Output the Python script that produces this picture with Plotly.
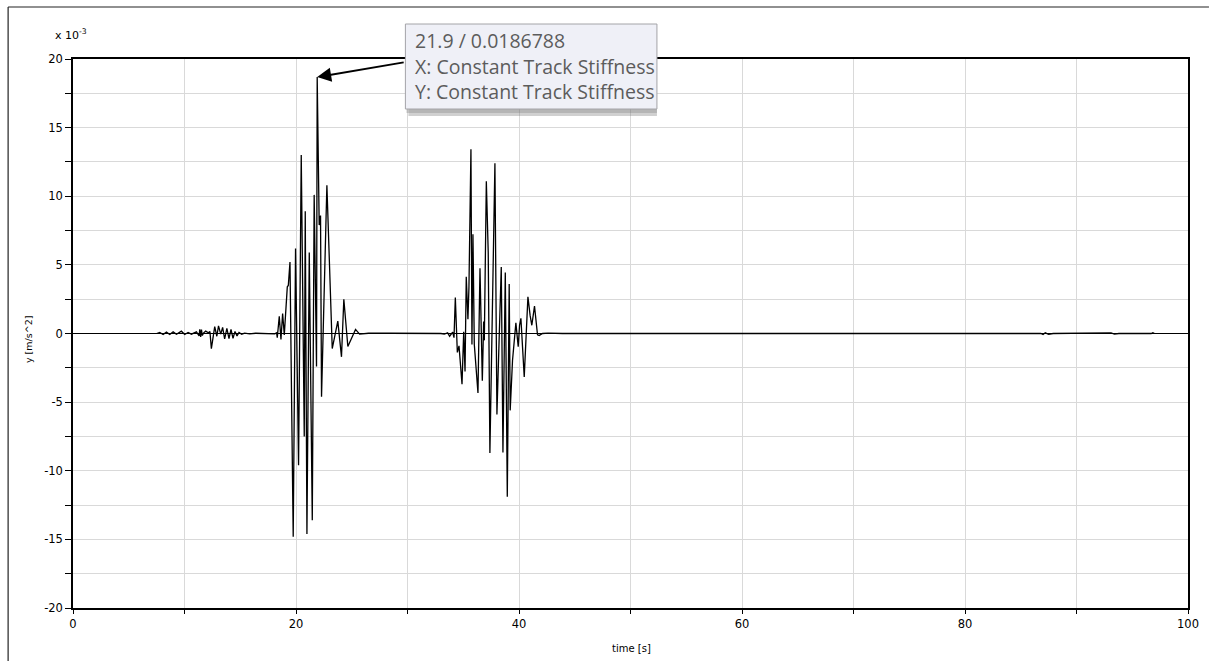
import plotly.graph_objects as go

# ---- data (time in s, acceleration in 1e-3 m/s^2) ----
time_s = [
    7.50, 7.78, 8.08, 8.38, 8.68, 8.98, 9.28, 9.72, 10.02, 10.32, 10.62, 11.07,
    11.31, 11.37, 11.45, 11.52, 11.60, 11.72, 11.90, 12.14, 12.28, 12.41, 12.71,
    12.90, 13.05, 13.25, 13.42, 13.60, 13.80, 13.99, 14.17, 14.35, 14.53, 14.71,
    14.89, 15.13, 15.39, 15.84, 16.38, 17.03, 17.93, 18.10,
    18.26, 18.32, 18.50, 18.65, 18.80, 18.95, 19.22, 19.31, 19.46, 19.75, 19.96,
    20.23, 20.47, 20.74, 20.83, 20.98, 21.19, 21.46, 21.63, 21.84, 21.90, 22.08,
    22.20, 22.29, 22.77, 23.25, 23.75, 24.08, 24.29, 24.65, 25.34, 25.70, 26.50,
    27.50, 28.50, 33.00, 33.30, 33.60, 33.78, 34.05, 34.17, 34.29, 34.47, 34.62,
    34.89, 35.04, 35.16, 35.27, 35.42, 35.51, 35.69, 35.78, 35.87, 35.99, 36.32,
    36.50, 36.71, 36.83, 36.89, 37.07, 37.24, 37.39, 37.69, 37.84, 38.02, 38.41,
    38.56, 38.77, 38.95, 39.12, 39.21, 39.42, 39.72, 39.93, 40.05, 40.17, 40.47,
    40.80, 41.00, 41.15, 41.39, 41.66, 41.81, 42.11, 42.60, 43.20, 43.90,
    86.80, 87.00, 87.20, 87.50, 87.90, 89.80, 90.00, 90.10, 91.00, 91.50, 91.60,
    92.80, 93.10, 93.40, 93.80, 96.70, 96.85, 97.00,
]
accel_milli = [
    0.00, 0.07, -0.07, 0.10, -0.07, 0.12, -0.05, 0.17, -0.07, 0.07, -0.05, 0.12,
    -0.17, 0.30, -0.25, 0.28, -0.15, 0.05, 0.17, 0.05, 0.15, -1.10, 0.50,
    -0.20, 0.55, -0.05, 0.45, -0.40, 0.38, -0.38, 0.30, -0.35, 0.15, -0.18,
    0.08, -0.05, 0.03, -0.03, 0.02, 0.00, 0.02, -0.03,
    0.05, -0.30, 1.26, -0.44, 1.46, -0.10, 3.40, 3.50, 5.20, -14.80, 6.20,
    -9.60, 13.00, -7.50, 8.90, -14.60, 5.90, -13.60, 10.10, -2.40, 18.68, 7.90,
    8.60, -4.60, 10.80, -1.10, 0.90, -1.70, 2.50, -0.95, 0.30, -0.05, 0.02,
    0.00, 0.02, 0.00, -0.04, 0.05, -0.20, 0.10, -0.30, 2.62, -1.38, -0.90,
    -3.69, 0.12, -2.77, 4.13, 1.04, 3.35, 13.42, -0.80, 7.23, -0.78, -4.34,
    4.76, -3.45, 0.87, -0.50, 11.10, 5.90, -8.70, 7.50, 12.40, -5.90, 4.85,
    -8.67, 4.44, -11.90, 3.60, -5.60, -1.95, 0.77, -0.97, 0.60, 1.10, -3.16,
    2.67, 1.30, 0.60, 2.00, -0.10, -0.15, 0.00, 0.03, 0.02, 0.00,
    0.00, -0.08, 0.05, -0.06, 0.00, 0.00, 0.04, 0.00, 0.00, 0.03, 0.00,
    0.00, 0.05, -0.04, 0.00, 0.00, 0.05, 0.00,
]

x_ticks = [0, 10, 20, 30, 40, 50, 60, 70, 80, 90, 100]
x_ticktext = ["0", "", "20", "", "40", "", "60", "", "80", "", "100"]
y_ticks = [-20, -17.5, -15, -12.5, -10, -7.5, -5, -2.5, 0, 2.5, 5, 7.5, 10, 12.5, 15, 17.5, 20]
y_ticktext = ["-20", "", "-15", "", "-10", "", "-5", "", "0", "", "5", "", "10", "", "15", "", "20"]

peak_t, peak_v = 21.9, 18.68
tooltip_lines = ["21.9 / 0.0186788", "X: Constant Track Stiffness", "Y: Constant Track Stiffness"]

W, H = 1211, 661
L, R, T, B = 73, 21, 59, 53
PW, PH = W - L - R, H - T - B


def px(xp):
    return (xp - L) / PW


def py(yp):
    return (H - B - yp) / PH


fig = go.Figure()
fig.add_trace(go.Scatter(
    x=time_s, y=accel_milli, mode="lines",
    line=dict(color="black", width=1.3), hoverinfo="skip", showlegend=False,
))

tick_font = dict(family="DejaVu Sans", size=11.5, color="black")
fig.update_layout(
    width=W, height=H,
    margin=dict(l=L, r=R, t=T, b=B, pad=0),
    paper_bgcolor="white", plot_bgcolor="white",
    showlegend=False,
    xaxis=dict(
        range=[0, 100], tickmode="array", tickvals=x_ticks, ticktext=x_ticktext,
        showgrid=True, gridcolor="#d9d9d9", gridwidth=1,
        showline=True, linecolor="black", linewidth=1.5, mirror=True,
        ticks="outside", ticklen=4, tickcolor="black", tickwidth=1,
        zeroline=False, tickfont=tick_font,
    ),
    yaxis=dict(
        range=[-20, 20], tickmode="array", tickvals=y_ticks, ticktext=y_ticktext,
        showgrid=True, gridcolor="#d9d9d9", gridwidth=1,
        showline=True, linecolor="black", linewidth=1.5, mirror=True,
        ticks="outside", ticklen=6, tickcolor="black", tickwidth=1,
        zeroline=True, zerolinecolor="black", zerolinewidth=1.2,
        tickfont=tick_font,
    ),
)

shapes = [
    # outer frame
    dict(type="line", xref="paper", yref="paper", x0=px(8), x1=px(8), y0=py(661), y1=py(7),
         line=dict(color="#222222", width=1.2)),
    dict(type="line", xref="paper", yref="paper", x0=px(8), x1=px(1211), y0=py(7), y1=py(7),
         line=dict(color="#222222", width=1.2)),
    # tooltip shadow
    dict(type="rect", xref="paper", yref="paper", x0=px(409), x1=px(658), y0=py(116), y1=py(28),
         fillcolor="rgba(120,120,120,0.35)", line=dict(width=0), layer="above"),
    dict(type="rect", xref="paper", yref="paper", x0=px(407), x1=px(658), y0=py(113), y1=py(26),
         fillcolor="rgba(120,120,120,0.3)", line=dict(width=0), layer="above"),
    # tooltip box
    dict(type="rect", xref="paper", yref="paper", x0=px(406), x1=px(658), y0=py(109), y1=py(24),
         fillcolor="#eff0f7", line=dict(color="#a4a4a8", width=1), layer="above"),
]
fig.update_layout(shapes=shapes)

annotations = [
    dict(x=px(53), y=py(34), xref="paper", yref="paper", xanchor="left", yanchor="middle",
         text="x 10<sup>-3</sup>", showarrow=False,
         font=dict(family="DejaVu Sans", size=11, color="black")),
    dict(x=px(28), y=py(340), xref="paper", yref="paper", xanchor="center", yanchor="middle",
         text="y [m/s^2]", textangle=-90, showarrow=False,
         font=dict(family="DejaVu Sans", size=9.5, color="black")),
    dict(x=px(633), y=py(648), xref="paper", yref="paper", xanchor="center", yanchor="middle",
         text="time [s]", showarrow=False,
         font=dict(family="DejaVu Sans", size=10, color="black")),
    # arrow to peak
    dict(x=peak_t, y=peak_v, xref="x", yref="y", text="", showarrow=True,
         ax=88, ay=-15, axref="pixel", ayref="pixel",
         arrowhead=2, arrowsize=1.4, arrowwidth=2, arrowcolor="black", standoff=0),
]
for i, line in enumerate(tooltip_lines):
    annotations.append(dict(
        x=px(414), y=py(41 + 25.5 * i), xref="paper", yref="paper",
        xanchor="left", yanchor="middle", text=line, showarrow=False,
        font=dict(family="Open Sans", size=19.5, color="#5c5c5c"),
    ))
fig.update_layout(annotations=annotations)

fig.write_html("out.html")
